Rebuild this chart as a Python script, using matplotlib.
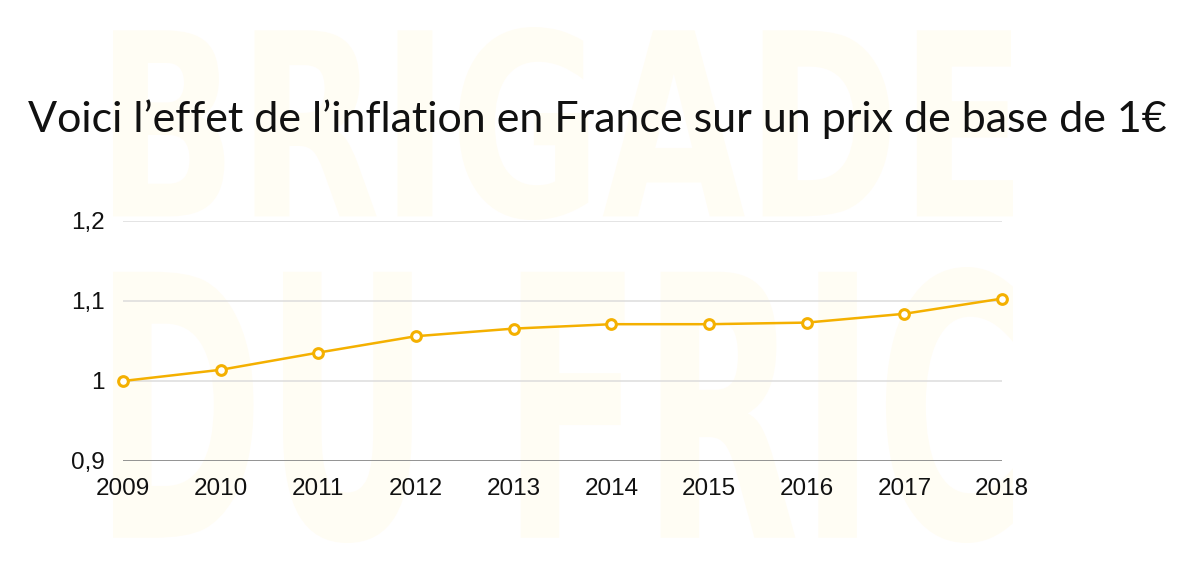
import matplotlib
matplotlib.use("Agg")
import matplotlib.pyplot as plt
from matplotlib.textpath import TextPath
from matplotlib.font_manager import FontProperties
from matplotlib.patches import PathPatch
from matplotlib.transforms import Affine2D

years = ["2009", "2010", "2011", "2012", "2013", "2014", "2015", "2016", "2017", "2018"]
values = [1.000, 1.014, 1.0355, 1.056, 1.0655, 1.071, 1.071, 1.073, 1.084, 1.103]
y_ticks = [0.9, 1.0, 1.1, 1.2]
y_labels = ["0,9", "1", "1,1", "1,2"]
title = "Voici l\u2019effet de l\u2019inflation en France sur un prix de base de 1\u20ac"

W, H = 1200, 575
fig = plt.figure(figsize=(W / 100, H / 100), dpi=100)
fig.patch.set_facecolor("white")

# Watermark
wm_color = "#fffdf4"
fp = FontProperties(family="DejaVu Sans", weight="bold")

def watermark(text, x0, y0, x1, y1):
    path = TextPath((0, 0), text, prop=fp, size=100)
    ext = path.get_extents()
    sx = (x1 - x0) / ext.width / W
    sy = (y1 - y0) / ext.height / H
    tr = (Affine2D().translate(-ext.x0, -ext.y0).scale(sx, sy)
          .translate(x0 / W, 1 - y1 / H) + fig.transFigure)
    p = PathPatch(path, transform=tr, facecolor=wm_color, edgecolor="none", zorder=-5)
    fig.patches.append(p)

watermark("BRIGADE", 113, 27, 1013, 220)
watermark("DU FRIC", 113, 267, 1013, 543)

ax = fig.add_axes([123 / W, 1 - 461 / H, 879 / W, 240 / H])
ax.set_facecolor("none")
x = list(range(len(years)))
ax.plot(x, values, color="#f4b000", linewidth=1.8, marker="o", markersize=7,
        markerfacecolor="white", markeredgecolor="#f4b000", markeredgewidth=2.2,
        zorder=5, clip_on=False)
ax.set_xlim(0, len(years) - 1)
ax.set_ylim(0.9, 1.2)
ax.set_xticks(x)
ax.set_xticklabels(years)
ax.set_yticks(y_ticks)
ax.set_yticklabels(y_labels)
for v in y_ticks[1:]:
    ax.axhline(v, color="#dcdcdc", linewidth=1.1, zorder=1)
ax.axhline(0.9, color="#8a8a8a", linewidth=1.3, zorder=2)
for s in ax.spines.values():
    s.set_visible(False)
ax.tick_params(axis="both", length=0, labelsize=17.5, labelcolor="#111111")
ax.tick_params(axis="x", pad=12)
ax.tick_params(axis="y", pad=13)
for lab in ax.get_xticklabels() + ax.get_yticklabels():
    lab.set_fontfamily("Liberation Sans")

fig.text(597 / W, 1 - 119 / H, title, ha="center", va="center", fontsize=31,
         family=["Lato", "DejaVu Sans"], fontweight="normal", color="#111111")

fig.savefig("out.png", dpi=100, facecolor="white")
